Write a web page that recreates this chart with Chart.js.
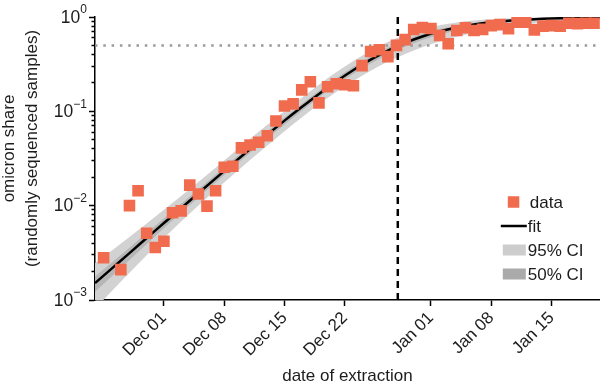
<!DOCTYPE html>
<html>
<head>
<meta charset="utf-8">
<script src="https://cdn.jsdelivr.net/npm/chart.js@4.4.1/dist/chart.umd.min.js"></script>
<style>
  html, body { margin: 0; padding: 0; background: #fff; }
  #wrap { width: 608px; height: 391px; }
</style>
</head>
<body>
<div id="wrap"><canvas id="chart" width="608" height="391"></canvas></div>
<script>
// x values are days counted from Dec 01
const sampleDays = [-7, -5, -4, -3, -2, -1, 0, 1, 2, 3, 4, 5, 6, 7, 8, 9, 10, 11, 12, 13,
  14, 15, 16, 17, 18, 19, 20, 21, 22, 23, 24, 25, 26, 27, 28, 29, 30, 31, 32, 33,
  34, 35, 36, 37, 38, 39, 40, 41, 42, 43, 44, 45, 46, 47, 48, 49, 50];
const omicronShare = [0.0028, 0.0021, 0.0100, 0.0144, 0.0051, 0.0036, 0.0042, 0.0084, 0.0088, 0.0165,
  0.0133, 0.0099, 0.0144, 0.0255, 0.0262, 0.041, 0.044, 0.047, 0.055, 0.079,
  0.114, 0.120, 0.169, 0.206, 0.123, 0.182, 0.196, 0.191, 0.187, 0.305,
  0.43, 0.45, 0.38, 0.50, 0.576, 0.736, 0.773, 0.755, 0.636, 0.52,
  0.72, 0.77, 0.72, 0.74, 0.81, 0.83, 0.75, 0.88, 0.88, 0.73,
  0.80, 0.81, 0.80, 0.86, 0.85, 0.86, 0.86];

const fitDays = [-8, -6, -4, -2, 0, 2, 4, 6, 8, 10, 12, 14, 16, 18, 20, 22, 24, 26, 28, 30,
  32, 34, 36, 38, 40, 42, 44, 46, 48, 50, 51];
const fitShare = [0.00151, 0.00218, 0.00314, 0.00454, 0.00654, 0.00942, 0.01356, 0.01947, 0.0279, 0.0398,
  0.0565, 0.0797, 0.111, 0.153, 0.207, 0.274, 0.353, 0.441, 0.532, 0.622,
  0.704, 0.774, 0.832, 0.878, 0.912, 0.937, 0.956, 0.969, 0.978, 0.985, 0.987];

const ciDays = [-8, -4, 0, 4, 8, 12, 16, 20, 24, 28, 32, 36, 40, 44, 48, 51];
const ci95Low = [0.00081, 0.00194, 0.00453, 0.01005, 0.0212, 0.0434, 0.0861, 0.160, 0.270, 0.405, 0.550, 0.680, 0.790, 0.870, 0.925, 0.950];
const ci95High = [0.00245, 0.00465, 0.00904, 0.01786, 0.0360, 0.0719, 0.1396, 0.260, 0.440, 0.650, 0.820, 0.920, 0.965, 0.985, 0.994, 0.997];
const ci50Low = [0.00122, 0.00266, 0.00577, 0.01222, 0.0254, 0.0515, 0.1016, 0.190, 0.322, 0.486, 0.650, 0.780, 0.870, 0.928, 0.960, 0.974];
const ci50High = [0.00178, 0.00359, 0.00731, 0.01489, 0.0305, 0.0614, 0.1199, 0.224, 0.382, 0.570, 0.745, 0.865, 0.935, 0.970, 0.986, 0.991];

// day where the fit passes 50 %
const crossDay = 27.15;
const halfShare = 0.5;

const xTickDays = [0, 7, 14, 21, 31, 38, 45];
const xTickLabels = ['Dec 01', 'Dec 08', 'Dec 15', 'Dec 22', 'Jan 01', 'Jan 08', 'Jan 15'];
const yMajorTicks = [0.001, 0.01, 0.1, 1];
const yTickExponents = ['\u22123', '\u22122', '\u22121', '0'];
const yMinorTicks = [];
[0.001, 0.01, 0.1].forEach(d => { for (let k = 2; k <= 9; k++) yMinorTicks.push(d * k); });

const xMin = -8, xMax = 50.6;
const fontFamily = "'Liberation Sans', Arial, Helvetica, sans-serif";
const textColor = '#1c1c1c';
const dataColor = '#f16c4f';
const band95Color = '#d2d2d2';
const band50Color = '#b6b6b6';

const pts = (xs, ys) => xs.map((x, i) => ({ x: x, y: ys[i] }));

const isMajor = v => Math.abs(Math.log10(v) - Math.round(Math.log10(v))) < 1e-6;

// y tick labels with exponents, y title and the legend box
const axisTextPlugin = {
  id: 'axisText',
  afterDraw(chart) {
    const { ctx, chartArea, scales } = chart;
    const y = scales.y;
    ctx.save();
    ctx.fillStyle = textColor;
    ctx.textBaseline = 'middle';
    ctx.textAlign = 'right';
    const right = chartArea.left - 8;
    yMajorTicks.forEach((v, i) => {
      const py = y.getPixelForValue(v);
      ctx.font = '12px ' + fontFamily;
      ctx.fillText(yTickExponents[i], right, py - 7);
      const w = ctx.measureText(yTickExponents[i]).width;
      ctx.font = '17.5px ' + fontFamily;
      ctx.fillText('10', right - w, py + 1);
    });

    // rotated two-line y title
    const cy = (chartArea.top + chartArea.bottom) / 2 - 10;
    ctx.font = '17px ' + fontFamily;
    ctx.textAlign = 'center';
    ctx.save();
    ctx.translate(9, cy);
    ctx.rotate(-Math.PI / 2);
    ctx.fillText('omicron share', 0, 0);
    ctx.restore();
    ctx.save();
    ctx.translate(32, cy);
    ctx.rotate(-Math.PI / 2);
    ctx.fillText('(randomly sequenced samples)', 0, 0);
    ctx.restore();

    // legend in the lower right corner
    const lx = chartArea.right - 97;
    const ly = chartArea.bottom - 98;
    const step = 24;
    ctx.textAlign = 'left';
    ctx.font = '17px ' + fontFamily;
    ctx.fillStyle = dataColor;
    ctx.fillRect(lx + 5, ly - 5.75, 11.5, 11.5);
    ctx.strokeStyle = '#000';
    ctx.lineWidth = 2.5;
    ctx.beginPath();
    ctx.moveTo(lx - 2, ly + step);
    ctx.lineTo(lx + 24, ly + step);
    ctx.stroke();
    ctx.fillStyle = '#cdcdcd';
    ctx.fillRect(lx, ly + 2 * step - 5.5, 23, 11);
    ctx.fillStyle = '#aaaaaa';
    ctx.fillRect(lx, ly + 3 * step - 5.5, 23, 11);
    ctx.fillStyle = textColor;
    ['data', 'fit', '95% CI', '50% CI'].forEach((t, i) => {
      ctx.fillText(t, i === 0 ? lx + 27 : lx + 25, ly + i * step + 1);
    });
    ctx.restore();
  }
};

new Chart(document.getElementById('chart'), {
  type: 'line',
  data: {
    datasets: [
      {
        label: 'data',
        data: pts(sampleDays, omicronShare),
        showLine: false,
        pointStyle: 'rect',
        pointRadius: 8.2,
        pointBorderWidth: 0,
        pointBackgroundColor: dataColor,
        pointBorderColor: dataColor,
        order: 0
      },
      {
        label: 'fit',
        data: pts(fitDays, fitShare),
        borderColor: '#000',
        borderWidth: 2.5,
        pointRadius: 0,
        cubicInterpolationMode: 'monotone',
        fill: false,
        order: 1
      },
      {
        label: 'crossing',
        data: [{ x: crossDay, y: 0.001 }, { x: crossDay, y: 1 }],
        borderColor: '#000',
        borderWidth: 2.5,
        borderDash: [7, 5],
        pointRadius: 0,
        fill: false,
        order: 1
      },
      {
        label: 'half',
        data: [{ x: xMin, y: halfShare }, { x: xMax, y: halfShare }],
        borderColor: '#9a9a9a',
        borderWidth: 2.5,
        borderDash: [2.5, 5.8],
        pointRadius: 0,
        fill: false,
        order: 2
      },
      {
        label: '50% CI low',
        data: pts(ciDays, ci50Low),
        borderWidth: 0,
        pointRadius: 0,
        cubicInterpolationMode: 'monotone',
        fill: false,
        order: 3
      },
      {
        label: '50% CI',
        data: pts(ciDays, ci50High),
        borderWidth: 0,
        pointRadius: 0,
        cubicInterpolationMode: 'monotone',
        backgroundColor: band50Color,
        fill: '-1',
        order: 3
      },
      {
        label: '95% CI low',
        data: pts(ciDays, ci95Low),
        borderWidth: 0,
        pointRadius: 0,
        cubicInterpolationMode: 'monotone',
        fill: false,
        order: 4
      },
      {
        label: '95% CI',
        data: pts(ciDays, ci95High),
        borderWidth: 0,
        pointRadius: 0,
        cubicInterpolationMode: 'monotone',
        backgroundColor: band95Color,
        fill: '-1',
        order: 4
      }
    ]
  },
  options: {
    responsive: false,
    animation: false,
    events: [],
    devicePixelRatio: 1,
    layout: { padding: { top: 17, right: 1, left: 0, bottom: 0 } },
    plugins: {
      legend: { display: false },
      tooltip: { enabled: false }
    },
    scales: {
      x: {
        type: 'linear',
        min: xMin,
        max: xMax,
        afterBuildTicks: (scale) => {
          scale.ticks = xTickDays.map(v => ({ value: v }));
        },
        afterFit: (scale) => { scale.height = 91; },
        ticks: {
          autoSkip: false,
          minRotation: 45,
          maxRotation: 45,
          padding: 2,
          color: textColor,
          font: { family: fontFamily, size: 17 },
          callback: (value) => xTickLabels[xTickDays.indexOf(value)]
        },
        grid: {
          drawOnChartArea: false,
          tickLength: 6,
          tickWidth: 1.5,
          tickColor: '#000'
        },
        border: { color: '#000', width: 1.5 },
        title: {
          display: true,
          text: 'date of extraction',
          color: textColor,
          font: { family: fontFamily, size: 17 },
          padding: { top: 0, bottom: 4 }
        }
      },
      y: {
        type: 'logarithmic',
        min: 0.001,
        max: 1,
        afterBuildTicks: (scale) => {
          scale.ticks = yMajorTicks.concat(yMinorTicks).sort((a, b) => a - b).map(v => ({ value: v }));
        },
        afterFit: (scale) => { scale.width = 95; },
        ticks: {
          autoSkip: false,
          callback: () => ''
        },
        grid: {
          drawOnChartArea: false,
          tickLength: 6,
          tickWidth: 1.5,
          tickColor: '#000',
          tickBorderDash: (c) => (c.tick && isMajor(c.tick.value)) ? [] : [0, 2.5, 3.5, 20]
        },
        border: { color: '#000', width: 1.5 }
      }
    }
  },
  plugins: [axisTextPlugin]
});
</script>
</body>
</html>
